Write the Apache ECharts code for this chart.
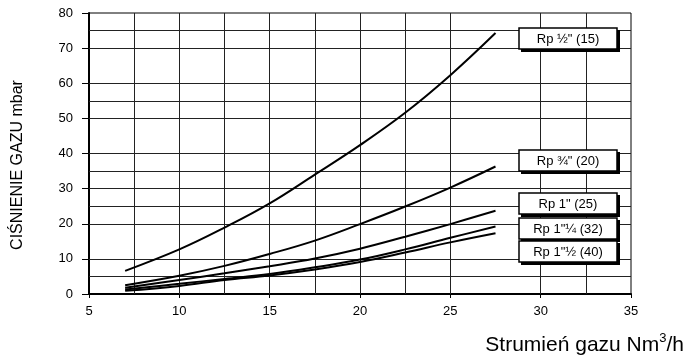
<!DOCTYPE html>
<html><head><meta charset="utf-8">
<script src="https://cdn.jsdelivr.net/npm/echarts@6/dist/echarts.min.js"></script>
<style>html,body{margin:0;padding:0;background:#fff}#c{width:685px;height:358px}</style>
</head><body><div id="c"></div>
<script>
// ---- data ----
const flow = [7, 10, 12.5, 15, 17.5, 20, 22.5, 25, 27.5];
const rpHalf = [6.6, 12.7, 18.9, 25.8, 34.0, 42.4, 51.6, 62.3, 74.3];
const rpThreeQuarter = [2.5, 5.2, 8.0, 11.4, 15.2, 19.9, 24.9, 30.3, 36.3];
const rp1 = [1.8, 4.0, 5.9, 7.9, 10.1, 12.9, 16.3, 19.9, 23.7];
const rp1Quarter = [1.3, 2.9, 4.3, 5.7, 7.6, 9.8, 12.7, 16.0, 19.2];
const rp1Half = [0.9, 2.3, 4.0, 5.3, 7.0, 9.1, 11.8, 14.7, 17.3];
const seriesNames = ['Rp ½" (15)', 'Rp ¾" (20)', 'Rp 1" (25)', 'Rp 1"¼ (32)', 'Rp 1"½ (40)'];
const xGridValues = [7.5, 10, 12.5, 15, 17.5, 20, 22.5, 25, 30, 32.5];
const yGridValues = [5, 10, 20, 25, 30, 35, 40, 50, 55, 60, 70, 75];
const xMin = 5, xMax = 35, xStep = 5;
const yMin = 0, yMax = 80, yStep = 10;
const yAxisTitle = 'CIŚNIENIE GAZU mbar';
const xAxisTitleParts = ['Strumień gazu Nm', '3', '/h'];

// ---- chart ----
const allSeries = [rpHalf, rpThreeQuarter, rp1, rp1Quarter, rp1Half];
const font = '"Liberation Sans", Arial, sans-serif';
const chart = echarts.init(document.getElementById('c'), null, {renderer: 'canvas'});

const series = allSeries.map((vals, i) => ({
  name: seriesNames[i],
  type: 'line',
  data: flow.map((x, j) => [x, vals[j]]),
  smooth: 0.4,
  symbol: 'none',
  lineStyle: {color: '#000', width: 2},
  z: 5
}));
series.push({
  type: 'line', data: [], silent: true, z: 1,
  markLine: {
    silent: true, symbol: 'none', animation: false, z: 1,
    label: {show: false},
    lineStyle: {color: '#222', width: 1, type: 'solid'},
    data: xGridValues.map(v => ({xAxis: v})).concat(yGridValues.map(v => ({yAxis: v})))
  }
});

const boxTops = [28, 150, 193, 218, 241];
const graphics = [];
seriesNames.forEach((name, i) => {
  graphics.push({
    type: 'rect', z: 100 + i * 3, shape: {x: 521, y: boxTops[i] + 2, width: 99, height: 22},
    style: {fill: '#000', stroke: null}
  });
  graphics.push({
    type: 'rect', z: 101 + i * 3, shape: {x: 519, y: boxTops[i], width: 98, height: 21},
    style: {fill: '#fff', stroke: '#000', lineWidth: 1.5}
  });
  graphics.push({
    type: 'text', z: 102 + i * 3, x: 568, y: boxTops[i] + 11,
    style: {text: name, fill: '#000', font: '13px ' + font, textAlign: 'center', textVerticalAlign: 'middle'}
  });
});
graphics.push({
  type: 'text', x: 18, y: 165, rotation: Math.PI / 2,
  style: {text: yAxisTitle, fill: '#000', font: '16px ' + font, textAlign: 'center', textVerticalAlign: 'middle'}
});
graphics.push({
  type: 'text', x: 684, y: 344,
  style: {
    text: '{a|' + xAxisTitleParts[0] + '}{s|' + xAxisTitleParts[1] + '}{a|' + xAxisTitleParts[2] + '}',
    textAlign: 'right', textVerticalAlign: 'middle',
    rich: {
      a: {fontSize: 21, fontFamily: font, fill: '#000', color: '#000', verticalAlign: 'bottom', lineHeight: 24},
      s: {fontSize: 13, fontFamily: font, fill: '#000', color: '#000', verticalAlign: 'top', lineHeight: 24}
    }
  }
});

chart.setOption({
  animation: false,
  backgroundColor: '#fff',
  grid: {left: 89, right: 54, top: 13, bottom: 64, show: true, borderColor: '#000', borderWidth: 1, backgroundColor: 'transparent'},
  xAxis: {
    type: 'value', min: xMin, max: xMax, interval: xStep,
    axisLine: {show: true, lineStyle: {color: '#000', width: 2}},
    axisTick: {show: true, length: 4, lineStyle: {color: '#000'}},
    axisLabel: {color: '#000', fontSize: 13, fontFamily: font, margin: 11},
    splitLine: {show: false}
  },
  yAxis: {
    type: 'value', min: yMin, max: yMax, interval: yStep,
    axisLine: {show: true, lineStyle: {color: '#000', width: 2}},
    axisTick: {show: true, length: 7, lineStyle: {color: '#000'}},
    axisLabel: {color: '#000', fontSize: 13, fontFamily: font, margin: 16},
    splitLine: {show: false}
  },
  series: series,
  graphic: graphics
});
</script>
</body></html>
